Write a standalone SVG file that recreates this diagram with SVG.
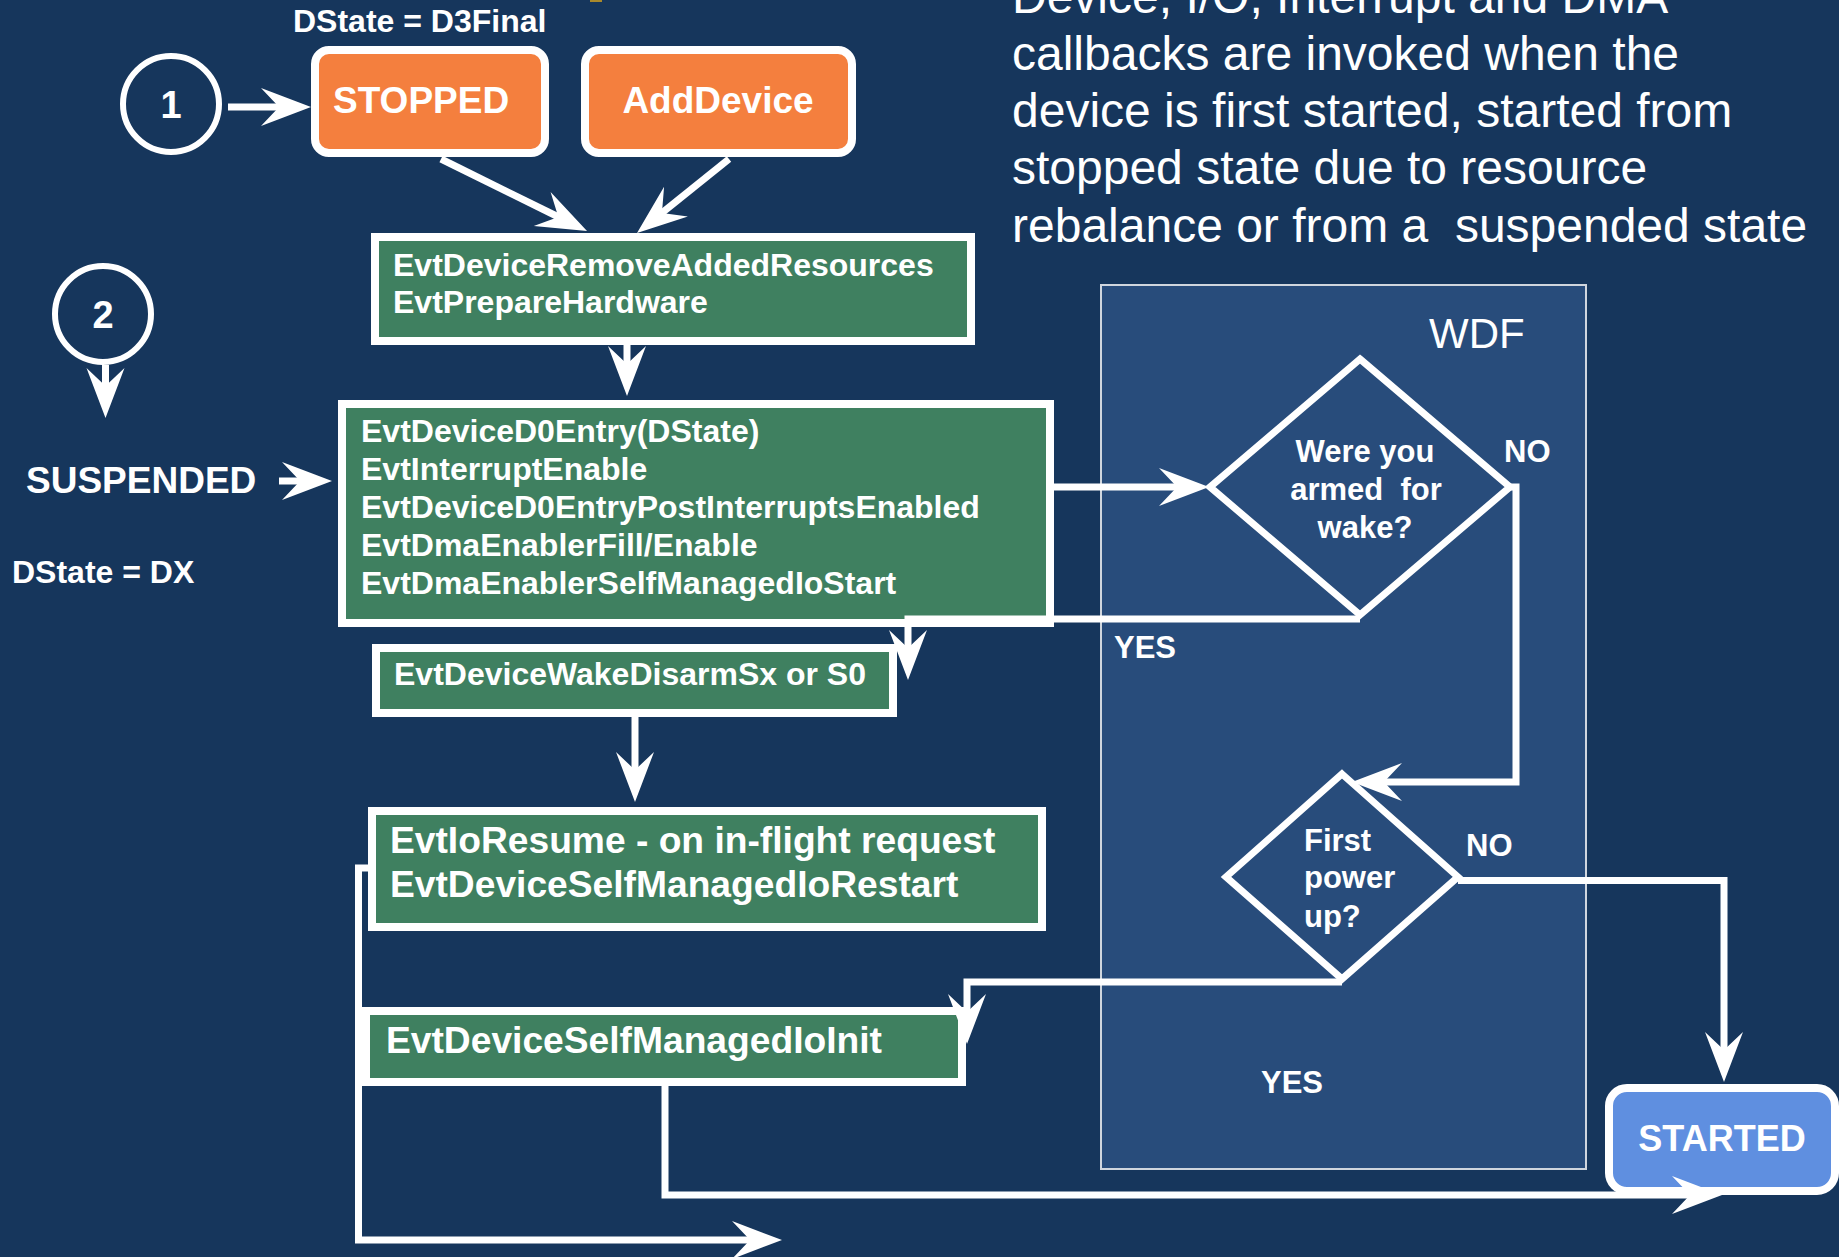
<svg xmlns="http://www.w3.org/2000/svg" width="1839" height="1257" viewBox="0 0 1839 1257">
  <defs>
    <style>
      .bg { fill: #16365C; }
      .state { fill: #F47F3E; stroke: #FFFFFF; stroke-width: 8; }
      .started { fill: #5F8FE0; stroke: #FFFFFF; stroke-width: 8; }
      .cb { fill: #3F8060; stroke: #FFFFFF; stroke-width: 8; }
      .wdf { fill: #284C7B; stroke: #D0D6DE; stroke-width: 2; }
      .dec { fill: none; stroke: #FFFFFF; stroke-width: 7; stroke-linejoin: miter; }
      .ring { fill: none; stroke: #FFFFFF; stroke-width: 6; }
      .wire { fill: none; stroke: #FFFFFF; stroke-width: 7; marker-end: url(#head); }
      text { font-family: "Liberation Sans", Arial, sans-serif; fill: #FFFFFF; }
      .t32 { font-size: 32px; font-weight: bold; }
      .t37 { font-size: 37.2px; font-weight: bold; }
      .t31 { font-size: 31px; font-weight: bold; }
      .t36 { font-size: 36px; font-weight: bold; }
      .t37b { font-size: 37px; font-weight: bold; }
      .para { font-size: 48px; }
      .mid { text-anchor: middle; }
    </style>
    <!-- stealth arrowhead; the path end sits 25px behind the tip -->
    <marker id="head" viewBox="-27 -21 54 42" refX="0" refY="0" markerWidth="54" markerHeight="42" markerUnits="userSpaceOnUse" orient="auto">
      <path d="M25,0 L-25,-19 L-7,0 L-25,19 Z" fill="#FFFFFF"/>
    </marker>
  </defs>

  <rect class="bg" x="0" y="0" width="1839" height="1257"/>
  <rect x="590" y="0" width="12" height="2" fill="#A9892B"/>

  <!-- explanatory paragraph, first line runs off the top edge -->
  <g id="note">
    <text class="para" x="1012" y="12.5">Device, I/O, Interrupt and DMA</text>
    <text class="para" x="1012" y="70">callbacks are invoked when the</text>
    <text class="para" x="1012" y="127">device is first started, started from</text>
    <text class="para" x="1012" y="184">stopped state due to resource</text>
    <text class="para" x="1012" y="242" xml:space="preserve">rebalance or from a  suspended state</text>
  </g>

  <!-- framework region -->
  <g id="wdf">
    <rect class="wdf" x="1101" y="285" width="485" height="884"/>
    <text x="1429" y="348" style="font-size:42px">WDF</text>
  </g>

  <g id="dstate-d3final">
    <text class="t32" x="293" y="32">DState = D3Final</text>
  </g>

  <g id="entry-1">
    <circle class="ring" cx="171" cy="104" r="48"/>
    <text class="mid" x="171" y="118" style="font-size:38px;font-weight:bold">1</text>
  </g>

  <g id="entry-2">
    <circle class="ring" cx="103" cy="314" r="48"/>
    <text class="mid" x="103" y="328" style="font-size:38px;font-weight:bold">2</text>
  </g>

  <g id="stopped">
    <rect class="state" x="315" y="50" width="230" height="103" rx="14"/>
    <text class="t37b" x="333" y="113">STOPPED</text>
  </g>

  <g id="add-device">
    <rect class="state" x="585" y="50" width="267" height="103" rx="14"/>
    <text class="t37b mid" x="718" y="113">AddDevice</text>
  </g>

  <g id="suspended">
    <text class="t37b" x="26" y="493">SUSPENDED</text>
    <text class="t32" x="12" y="583">DState = DX</text>
  </g>

  <g id="prepare-hardware">
    <rect class="cb" x="375" y="237" width="596" height="104"/>
    <text class="t32" x="393" y="276">EvtDeviceRemoveAddedResources</text>
    <text class="t32" x="393" y="313">EvtPrepareHardware</text>
  </g>

  <g id="d0-entry">
    <rect class="cb" x="342" y="404" width="708" height="219"/>
    <text class="t32" x="361" y="442">EvtDeviceD0Entry(DState)</text>
    <text class="t32" x="361" y="480">EvtInterruptEnable</text>
    <text class="t32" x="361" y="518">EvtDeviceD0EntryPostInterruptsEnabled</text>
    <text class="t32" x="361" y="556">EvtDmaEnablerFill/Enable</text>
    <text class="t32" x="361" y="594">EvtDmaEnablerSelfManagedIoStart</text>
  </g>

  <g id="wake-disarm">
    <rect class="cb" x="376" y="648" width="517" height="65"/>
    <text class="t32" x="394" y="685">EvtDeviceWakeDisarmSx or S0</text>
  </g>

  <g id="io-restart">
    <rect class="cb" x="372" y="811" width="670" height="116"/>
    <text class="t37" x="390" y="853">EvtIoResume - on in-flight request</text>
    <text class="t37" x="390" y="897">EvtDeviceSelfManagedIoRestart</text>
  </g>

  <g id="io-init">
    <rect class="cb" x="366" y="1011" width="596" height="71"/>
    <text class="t37" x="386" y="1053">EvtDeviceSelfManagedIoInit</text>
  </g>

  <g id="armed-for-wake">
    <polygon class="dec" points="1360,359 1510,487 1360,615 1210,487"/>
    <text class="t31 mid" x="1365" y="462">Were you</text>
    <text class="t31 mid" x="1366" y="500" xml:space="preserve">armed  for</text>
    <text class="t31 mid" x="1365" y="538">wake?</text>
  </g>

  <g id="first-power-up">
    <polygon class="dec" points="1342,774 1458,877 1342,979 1226,877"/>
    <text class="t31" x="1304" y="851">First</text>
    <text class="t31" x="1304" y="888">power</text>
    <text class="t31" x="1304" y="927">up?</text>
  </g>

  <g id="started">
    <rect class="started" x="1609" y="1088" width="226" height="103" rx="18"/>
    <text class="t36 mid" x="1722" y="1151">STARTED</text>
  </g>

  <g id="labels">
    <text class="t31" x="1504" y="462">NO</text>
    <text class="t31" x="1114" y="658">YES</text>
    <text class="t31" x="1466" y="856">NO</text>
    <text class="t31" x="1261" y="1093">YES</text>
  </g>

  <g id="connectors">
    <path class="wire" d="M228,107 H286"/>
    <path class="wire" d="M441,159 L564.6,220"/>
    <path class="wire" d="M729,159 L656.5,217.3"/>
    <path class="wire" d="M105.5,365 V393"/>
    <path class="wire" d="M279,481 H307"/>
    <path class="wire" d="M627,345 V371"/>
    <path class="wire" d="M1050,487 H1184"/>
    <path class="wire" d="M1510,487 H1516 V782 H1377"/>
    <path class="wire" d="M1360,619 H908 V655"/>
    <path class="wire" d="M635,717 V777"/>
    <path class="wire" d="M1342,982 H967 V1019"/>
    <path class="wire" d="M1458,880.5 H1724 V1057"/>
    <path class="wire" d="M368,868 H358.5 V1240 H757"/>
    <path class="wire" d="M665,1086 V1195 H1697"/>
  </g>
</svg>
